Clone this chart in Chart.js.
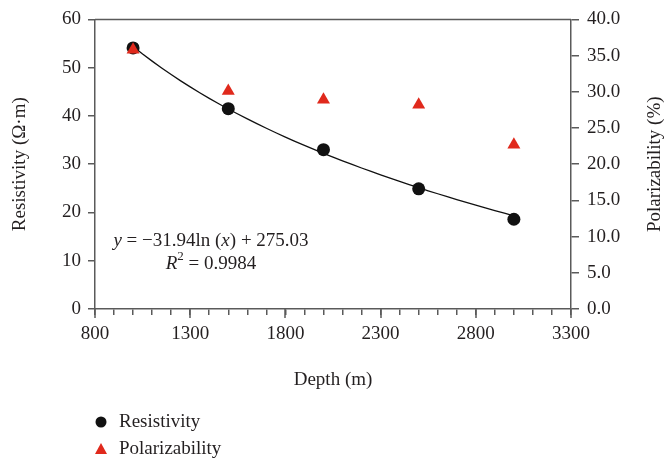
<!DOCTYPE html>
<html>
<head>
<meta charset="utf-8">
<script src="https://cdn.jsdelivr.net/npm/chart.js@4.4.0/dist/chart.umd.min.js"></script>
<style>
  html, body { margin: 0; padding: 0; background: #fff; }
  #wrap { width: 666px; height: 464px; }
</style>
</head>
<body>
<div id="wrap"><canvas id="chart" width="666" height="464"></canvas></div>
<script>
// values
const depths = [1000, 1500, 2000, 2500, 3000];
const resistivity = [54.1, 41.5, 33.0, 24.9, 18.6];
const polarizability = [35.8, 30.1, 28.9, 28.2, 22.7];
const xTicks = [800, 1300, 1800, 2300, 2800, 3300];

// log fit as printed on the chart: y = a ln(x) + b
const fitA = -31.94;
const fitB = 275.03;
const fitR2 = '0.9984';

const FONT = '"Liberation Serif", "Times New Roman", serif';
const FS = 19;
const AXIS = '#5a5a5a';
const TEXT = '#231f20';
const RED = '#e0291c';

const toXY = (xs, ys) => xs.map((x, i) => ({ x, y: ys[i] }));

const fitLine = [];
for (let d = depths[0]; d <= depths[depths.length - 1]; d += 50) {
  fitLine.push({ x: d, y: fitA * Math.log(d) + fitB });
}

// top border, long major ticks, right title, equation, vertical legend
const extras = {
  id: 'extras',
  afterDraw(chart) {
    const { ctx, chartArea: a } = chart;
    const xs = chart.scales.x;
    ctx.save();
    ctx.strokeStyle = AXIS;
    ctx.lineWidth = 1.5;
    ctx.beginPath();
    ctx.moveTo(a.left, a.top);
    ctx.lineTo(a.right, a.top);
    xTicks.forEach(v => {
      const px = Math.round(xs.getPixelForValue(v));
      ctx.moveTo(px, a.bottom);
      ctx.lineTo(px, a.bottom + 9);
    });
    ctx.stroke();

    ctx.fillStyle = TEXT;
    ctx.textBaseline = 'middle';

    // right axis title reads bottom to top like the left one
    ctx.save();
    ctx.translate(655, (a.top + a.bottom) / 2);
    ctx.rotate(-Math.PI / 2);
    ctx.textAlign = 'center';
    ctx.font = FS + 'px ' + FONT;
    ctx.fillText('Polarizability (%)', 0, 0);
    ctx.restore();

    const parts = (list, cx, cy) => {
      let w = 0;
      list.forEach(p => { ctx.font = p.f; w += ctx.measureText(p.t).width; });
      let x = cx - w / 2;
      list.forEach(p => {
        ctx.font = p.f;
        ctx.fillText(p.t, x, cy + (p.dy || 0));
        x += ctx.measureText(p.t).width;
      });
    };
    const n = FS + 'px ' + FONT, it = 'italic ' + FS + 'px ' + FONT, sm = '13px ' + FONT;
    ctx.textAlign = 'left';
    parts([
      { t: 'y', f: it }, { t: ' = \u221231.94ln (', f: n },
      { t: 'x', f: it }, { t: ') + 275.03', f: n }
    ], a.left + 116, 241);
    parts([
      { t: 'R', f: it }, { t: '2', f: sm, dy: -7 }, { t: ' = ' + fitR2, f: n }
    ], a.left + 116, 264);

    // legend, Resistivity first
    const items = chart.data.datasets.filter(ds => ds.label).sort((p, q) => q.order - p.order);
    items.forEach((ds, i) => {
      const y = 422 + i * 27;
      ctx.fillStyle = ds.backgroundColor;
      ctx.beginPath();
      if (ds.pointStyle === 'triangle') {
        ctx.moveTo(101, y - 6);
        ctx.lineTo(107, y + 5);
        ctx.lineTo(95, y + 5);
        ctx.closePath();
      } else {
        ctx.arc(101, y, 5.5, 0, Math.PI * 2);
      }
      ctx.fill();
      ctx.fillStyle = TEXT;
      ctx.font = FS + 'px ' + FONT;
      ctx.fillText(ds.label, 119, y);
    });
    ctx.restore();
  }
};

new Chart(document.getElementById('chart'), {
  type: 'scatter',
  data: {
    datasets: [
      {
        label: 'Polarizability',
        data: toXY(depths, polarizability),
        yAxisID: 'y2',
        pointStyle: 'triangle',
        pointRadius: 7.5,
        backgroundColor: RED,
        borderColor: RED,
        borderWidth: 0,
        order: 0
      },
      {
        label: 'Resistivity',
        data: toXY(depths, resistivity),
        yAxisID: 'y',
        pointStyle: 'circle',
        pointRadius: 6.5,
        backgroundColor: '#111111',
        borderColor: '#111111',
        borderWidth: 0,
        order: 1
      },
      {
        data: fitLine,
        yAxisID: 'y',
        showLine: true,
        pointRadius: 0,
        borderColor: '#111111',
        borderWidth: 1.3,
        tension: 0,
        order: 2
      }
    ]
  },
  options: {
    responsive: false,
    animation: false,
    layout: { padding: { top: 19, bottom: 71, left: 0, right: 0 } },
    plugins: { legend: { display: false }, tooltip: { enabled: false } },
    scales: {
      x: {
        type: 'linear',
        min: 800,
        max: 3300,
        afterFit: s => { s.height = 84; },
        afterBuildTicks: s => {
          const t = [];
          for (let v = 800; v <= 3300; v += 100) t.push({ value: v });
          s.ticks = t;
        },
        ticks: {
          autoSkip: false,
          maxRotation: 0,
          padding: 8,
          color: TEXT,
          font: { family: FONT, size: FS },
          callback: v => xTicks.includes(v) ? String(v) : ''
        },
        grid: { drawOnChartArea: false, tickLength: 6, color: AXIS, lineWidth: 1.5 },
        border: { color: AXIS, width: 1.5 },
        title: {
          display: true, text: 'Depth (m)', color: TEXT,
          font: { family: FONT, size: FS }, padding: { top: 4, bottom: 2 }
        }
      },
      y: {
        position: 'left',
        min: 0,
        max: 60,
        afterFit: s => { s.width = 95; },
        ticks: {
          stepSize: 10, padding: 7, color: TEXT,
          font: { family: FONT, size: FS }
        },
        grid: { drawOnChartArea: false, tickLength: 7, color: AXIS, lineWidth: 1.5 },
        border: { color: AXIS, width: 1.5 },
        title: {
          display: true, text: 'Resistivity (\u03A9\u00B7m)', color: TEXT,
          font: { family: FONT, size: FS }, padding: { top: 9, bottom: 0 }
        }
      },
      y2: {
        position: 'right',
        min: 0,
        max: 40,
        afterFit: s => { s.width = 95; },
        ticks: {
          stepSize: 5, padding: 8, color: TEXT,
          font: { family: FONT, size: FS },
          callback: v => Number(v).toFixed(1)
        },
        grid: { drawOnChartArea: false, tickLength: 8, color: AXIS, lineWidth: 1.5 },
        border: { color: AXIS, width: 1.5 }
      }
    }
  },
  plugins: [extras]
});
</script>
</body>
</html>
